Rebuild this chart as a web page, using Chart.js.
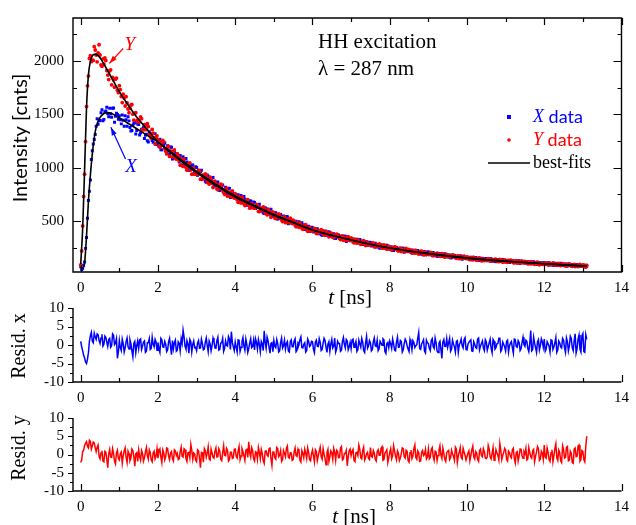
<!DOCTYPE html>
<html lang="en">
<head>
<meta charset="UTF-8">
<title>HH excitation decay</title>
<script src="https://cdn.jsdelivr.net/npm/chart.js@4.4.0/dist/chart.umd.min.js"></script>
<style>
  body { margin: 0; background: #fff; }
  #wrap { position: relative; width: 636px; height: 525px; overflow: hidden; }
  #wrap canvas { position: absolute; left: 0; }
</style>
</head>
<body>
<div id="wrap">
  <canvas id="main" width="636" height="310" style="top:0px"></canvas>
  <canvas id="resX" width="636" height="115" style="top:290px"></canvas>
  <canvas id="resY" width="636" height="125" style="top:400px"></canvas>
</div>
<script>
// sampling step of the measured traces [ns]
// "A" arrays start at t = 0, "B" arrays sit half a step later (t = 0.025, 0.075, ...)
var tStep = 0.05;

// X (blue) intensity data [cnts]
var xDataA = [
  75, 58, 119, 347, 694, 886, 1158, 1264, 1388, 1407,
  1442, 1543, 1452, 1530, 1504, 1556, 1473, 1558, 1482, 1498,
  1487, 1410, 1443, 1487, 1388, 1438, 1343, 1398, 1420, 1348,
  1403, 1326, 1360, 1273, 1312, 1241, 1320, 1254, 1272, 1216,
  1218, 1267, 1167, 1212, 1175, 1206, 1129, 1192, 1124, 1132,
  1117, 1053, 1073, 1102, 1021, 1054, 977, 1014, 1026, 966,
  1003, 942, 964, 895, 921, 863, 920, 866, 877, 830,
  828, 866, 788, 823, 794, 818, 758, 807, 754, 760,
  748, 700, 717, 740, 680, 706, 650, 679, 690, 645,
  676, 629, 647, 594, 615, 571, 617, 575, 585, 549,
  549, 579, 521, 549, 529, 549, 503, 542, 502, 508,
  500, 463, 476, 494, 446, 467, 422, 445, 452, 418,
  440, 406, 421, 383, 400, 369, 403, 374, 382, 358,
  358, 382, 339, 361, 346, 362, 330, 359, 331, 337,
  333, 306, 317, 332, 298, 315, 282, 301, 308, 283,
  302, 276, 288, 259, 273, 248, 275, 253, 259, 241,
  241, 260, 227, 246, 235, 248, 222, 247, 225, 230,
  227, 207, 216, 229, 202, 217, 192, 207, 214, 195,
  211, 191, 201, 177, 189, 171, 194, 176, 182, 167,
  169, 185, 158, 173, 164, 175, 155, 175, 158, 162,
  160, 143, 152, 162, 142, 153, 134, 146, 153, 137,
  151, 136, 144, 126, 135, 121, 140, 126, 131, 119,
  121, 135, 113, 125, 119, 129, 112, 130, 115, 119,
  118, 105, 112, 120, 103, 113, 97, 108, 112, 100,
  112, 98, 106, 90, 99, 86, 103, 91, 96, 86,
  87, 100, 80, 92, 86, 95, 80, 96, 83, 87,
  86, 73, 80
];
var xDataB = [
  48, 88, 246, 527, 780, 1076, 1222, 1311, 1458, 1439,
  1515, 1440, 1522, 1565, 1476, 1504, 1557, 1426, 1510, 1454,
  1449, 1493, 1388, 1449, 1476, 1377, 1349, 1415, 1315, 1409,
  1307, 1361, 1379, 1303, 1252, 1336, 1295, 1238, 1317, 1226,
  1260, 1169, 1214, 1232, 1146, 1158, 1194, 1081, 1143, 1094,
  1086, 1114, 1029, 1070, 1086, 1005, 979, 1024, 944, 1010,
  929, 966, 977, 915, 873, 933, 898, 852, 909, 836,
  861, 791, 825, 839, 772, 782, 809, 721, 770, 731,
  725, 748, 684, 717, 730, 670, 652, 688, 628, 680,
  618, 649, 658, 611, 578, 627, 601, 565, 611, 554,
  575, 522, 550, 562, 512, 520, 543, 477, 515, 486,
  482, 500, 450, 475, 486, 438, 424, 451, 404, 444,
  398, 422, 430, 397, 374, 411, 393, 368, 402, 362,
  378, 340, 361, 371, 334, 342, 360, 311, 341, 321,
  319, 334, 298, 319, 328, 294, 284, 306, 272, 304,
  269, 289, 295, 270, 252, 280, 267, 248, 275, 244,
  258, 227, 245, 254, 226, 232, 247, 209, 234, 218,
  217, 230, 202, 219, 227, 200, 194, 212, 186, 212,
  185, 201, 207, 186, 173, 198, 187, 173, 195, 170,
  182, 158, 173, 180, 157, 163, 175, 144, 165, 152,
  152, 163, 140, 155, 161, 141, 135, 151, 130, 152,
  131, 144, 149, 133, 123, 143, 134, 123, 141, 123,
  133, 113, 125, 132, 113, 119, 129, 104, 122, 112,
  112, 121, 102, 114, 120, 103, 98, 111, 94, 112,
  94, 106, 111, 97, 88, 106, 99, 89, 106, 89,
  98, 80, 92, 98, 81, 86, 96, 73, 89, 80,
  80, 89
];

// Y (red) intensity data [cnts]
var yDataA = [
  92, 456, 940, 1572, 1857, 2047, 2006, 2132, 2054, 2074,
  2054, 1948, 1970, 2003, 1866, 1905, 1775, 1821, 1828, 1725,
  1767, 1666, 1688, 1577, 1606, 1514, 1586, 1501, 1509, 1436,
  1427, 1475, 1358, 1402, 1356, 1385, 1294, 1358, 1278, 1283,
  1261, 1192, 1212, 1242, 1155, 1188, 1106, 1145, 1156, 1092,
  1132, 1064, 1088, 1012, 1040, 977, 1038, 979, 990, 940,
  936, 977, 893, 930, 899, 925, 860, 913, 855, 862,
  849, 796, 813, 837, 770, 798, 734, 765, 775, 726,
  757, 706, 727, 670, 693, 646, 695, 651, 661, 625,
  623, 657, 591, 622, 599, 620, 570, 613, 568, 575,
  566, 526, 541, 561, 511, 534, 486, 511, 521, 484,
  510, 471, 487, 443, 461, 424, 463, 428, 437, 408,
  407, 433, 386, 410, 394, 411, 375, 407, 376, 382,
  376, 348, 359, 375, 338, 356, 322, 341, 349, 323,
  344, 315, 328, 296, 311, 284, 314, 289, 297, 276,
  277, 296, 261, 279, 268, 281, 253, 279, 254, 260,
  255, 233, 243, 257, 228, 243, 216, 232, 240, 219,
  236, 215, 225, 201, 213, 193, 218, 198, 205, 188,
  190, 208, 179, 194, 185, 197, 176, 197, 178, 183,
  180, 163, 171, 182, 159, 172, 150, 164, 169, 153,
  167, 149, 159, 139, 150, 134, 154, 139, 145, 133,
  134, 149, 126, 139, 132, 142, 125, 142, 128, 131,
  130, 116, 124, 133, 114, 126, 108, 120, 125, 112,
  124, 110, 118, 101, 110, 97, 114, 102, 106, 96,
  97, 110, 90, 102, 96, 105, 90, 106, 93, 97,
  96, 83, 90, 99, 82, 92, 76, 87, 92, 80,
  92, 78, 86
];
var yDataB = [
  222, 732, 1244, 1766, 2022, 1992, 2003, 2101, 1990, 2150,
  1962, 2018, 2026, 1909, 1824, 1915, 1844, 1753, 1838, 1702,
  1731, 1609, 1652, 1664, 1549, 1556, 1591, 1445, 1515, 1448,
  1431, 1459, 1353, 1397, 1411, 1310, 1274, 1323, 1223, 1298,
  1200, 1243, 1255, 1181, 1129, 1199, 1158, 1101, 1167, 1080,
  1109, 1024, 1065, 1081, 1001, 1012, 1045, 939, 997, 949,
  941, 967, 891, 928, 943, 870, 847, 888, 815, 875,
  802, 837, 846, 790, 751, 807, 775, 732, 784, 717,
  740, 677, 710, 724, 664, 674, 701, 622, 667, 633,
  628, 650, 590, 621, 634, 577, 560, 594, 537, 586,
  530, 559, 568, 526, 497, 541, 518, 487, 528, 478,
  497, 447, 474, 484, 438, 446, 467, 405, 441, 414,
  412, 429, 386, 410, 420, 380, 368, 394, 354, 391,
  350, 372, 379, 349, 328, 362, 346, 323, 355, 319,
  334, 298, 319, 328, 294, 301, 318, 272, 301, 281,
  280, 294, 261, 280, 288, 257, 248, 268, 238, 266,
  235, 253, 260, 237, 221, 248, 236, 218, 245, 217,
  229, 202, 218, 227, 200, 206, 221, 185, 209, 194,
  193, 205, 179, 195, 202, 178, 172, 189, 164, 189,
  164, 179, 184, 165, 153, 176, 166, 152, 174, 151,
  161, 140, 153, 161, 140, 146, 157, 130, 148, 137,
  138, 147, 127, 139, 146, 128, 122, 137, 117, 137,
  117, 131, 135, 120, 110, 131, 121, 110, 129, 111,
  120, 102, 113, 119, 102, 107, 116, 93, 109, 100,
  100, 109, 91, 103, 109, 92, 88, 101, 84, 102,
  84, 96, 101, 87, 78, 96, 89, 79, 96, 79,
  88, 70
];

// best-fit curves
var fitT = [0, 0.05, 0.1, 0.15, 0.2, 0.25, 0.3, 0.35, 0.4, 0.5, 0.6, 0.7, 0.8, 1.0, 1.2, 1.4, 1.6, 1.8,
            2.0, 2.5, 3, 3.5, 4, 4.5, 5, 5.5, 6, 7, 8, 9, 10, 11, 12, 13.1];
var fitX = [60, 62, 110, 360, 690, 930, 1130, 1280, 1380, 1470, 1507, 1515, 1506, 1465, 1421, 1376, 1330, 1285,
            1240, 1100, 965, 845, 735, 646, 562, 490, 418, 325, 249, 197, 155, 126, 102, 80];
var fitY = [100, 430, 980, 1560, 1870, 1995, 2045, 2060, 2060, 2028, 1970, 1905, 1840, 1712, 1600, 1498, 1408, 1324,
            1243, 1090, 955, 835, 725, 638, 555, 485, 418, 325, 249, 197, 155, 126, 102, 80];

// weighted residuals
var residXA = [
  1.0, -1.5, -3.5, -5.0, -2.0, 2.5, 1.0, 3.2, 1.5, 2.8,
  0.4, 2.9, 0.2, 2.0, -0.4, 1.8, -0.2, 2.6, 0.5, -3.6,
  1.2, -1.5, 0.4, -0.8, 1.9, -1.1, 0.3, -3.2, 1.0, -0.2,
  -0.9, 1.6, -0.3, 1.1, -1.7, 0.6, -1.2, 2.1, -0.5, 0.8,
  0.7, -2.0, 1.4, -0.6, 0.2, -1.3, 1.8, -2.6, -1.0, 1.3,
  -1.4, 0.5, 1.7, 4.0, -0.3, 1.2, -2.2, 0.9, 0.1, -0.7,
  -1.5, 1.2, -0.8, 0.4, -1.1, 1.9, -1.8, 0.3, -0.2, 1.0,
  -0.9, 2.1, -1.2, 0.6, -1.7, 1.1, -0.3, 1.6, 3.6, -0.5,
  0.8, -1.9, 1.3, -0.6, 2.0, -1.4, 0.2, -1.0, 1.7, -0.4,
  -1.3, 0.7, 1.5, -1.8, 0.3, 3.8, -0.9, 1.1, -2.2, 0.6,
  1.2, -0.7, 0.4, -1.6, 1.9, -0.2, -1.1, 0.9, -1.9, 1.4,
  -0.5, 1.7, -1.4, 0.3, 2.2, -0.8, 0.6, -1.5, 1.0, -0.1,
  0.9, -2.1, 1.3, -0.4, 0.7, -1.2, 1.8, -0.6, 0.2, -1.7,
  1.5, -0.3, -1.9, 1.0, 0.4, -1.4, 2.0, -0.8, 1.1, -0.5,
  -1.0, 1.6, 0.2, -1.7, 1.3, -0.6, 0.8, -2.0, 2.3, -0.3,
  0.6, -1.2, 1.9, -0.4, -1.5, 1.0, -0.1, 1.4, -2.3, 0.7,
  1.1, -0.9, 0.3, -1.6, 2.1, -0.5, 0.9, -1.3, 1.6, -0.2,
  -1.8, 0.5, 1.2, -0.7, 0.1, 3.4, -1.2, 0.8, -1.6, 1.3,
  0.4, -1.5, 1.7, -0.9, 0.6, -2.0, 1.0, -3.6, 1.5, -0.4,
  -0.6, 1.8, -1.1, 0.3, -1.9, 1.2, 0.0, 1.6, -0.8, 2.0,
  -1.3, 0.7, 1.4, -1.7, 0.2, -0.9, 1.9, -0.3, 1.1, -1.5,
  0.8, -0.4, 1.6, -2.1, 1.0, -0.7, 0.4, 1.8, -1.2, 0.2,
  -1.6, 1.3, -0.2, 0.9, -2.2, 1.5, -0.6, 0.7, -1.0, 2.1,
  -0.4, 1.0, -1.8, 3.9, -1.3, 0.5, -2.0, 1.4, -0.1, 0.9,
  1.6, -1.1, 0.3, -1.9, 1.2, -0.5, 2.0, -1.4, 0.6, -0.8,
  1.3, -2.0, 0.9, -0.3, 1.8, -1.5, 3.0, -1.0, 2.7, -1.9,
  3.1, -2.0, 1.5
];
var residXB = [
  -0.5, -2.8, -4.6, -3.8, 1.0, 3.4, 0.6, 2.2, 3.0, 1.2,
  1.9, -0.3, 2.4, 0.8, 1.5, -0.6, 3.0, 0.1, 1.7, -1.8,
  -0.7, 1.6, -1.9, 0.9, -0.4, 1.4, -1.6, 0.5, -2.1, 1.1,
  1.3, -1.2, 0.8, -2.0, 0.6, 1.7, -0.9, 0.2, 1.5, -1.4,
  -1.1, 1.8, -0.5, 1.0, -1.8, 0.9, -0.4, 1.2, 0.6, -1.7,
  0.9, -1.6, 0.4, 2.2, -1.1, 0.3, 1.5, -1.9, 1.1, -0.6,
  0.5, -0.9, 1.6, -1.3, 0.8, -0.2, 1.1, -1.6, 1.9, -0.8,
  1.2, -1.4, 0.5, 1.8, -0.9, -0.1, 2.3, -1.2, 0.7, -1.5,
  -0.6, 1.4, -1.7, 0.9, -0.3, 1.6, -2.0, 0.6, -0.7, 1.3,
  1.7, -1.1, 0.2, 1.0, -1.5, 0.8, 2.1, -0.6, 0.4, -1.8,
  -0.3, 1.5, -1.9, 0.7, -0.8, 1.3, 0.4, -1.6, 0.9, -0.5,
  1.1, -1.8, 0.6, 1.4, -0.7, 0.2, -1.9, 1.6, -0.4, 1.0,
  -1.2, 0.8, -0.3, 1.7, -1.5, 0.5, 1.2, -2.0, 0.9, 0.3,
  -0.8, 1.9, -1.1, 0.4, -1.7, 0.9, 0.2, 1.5, -1.3, 0.7,
  1.4, -0.6, 1.0, -1.2, 0.3, 1.8, -1.5, 0.6, -0.9, 1.2,
  -1.6, 0.9, -0.2, 1.3, -1.0, 0.5, 1.7, -1.8, 0.4, -0.7,
  0.3, 1.6, -1.4, 0.8, -0.6, 1.2, -1.9, 0.4, 1.0, -1.1,
  1.5, -1.3, 0.7, -0.2, 1.8, -1.0, 0.3, 1.4, -2.1, 0.6,
  -0.9, 1.2, -0.4, 1.9, -1.6, 0.5, -1.1, 0.8, -0.3, 1.7,
  0.6, -1.7, 1.3, -0.5, 1.0, -2.0, 0.7, -0.2, 1.5, -1.2,
  0.2, 1.1, -1.6, 0.9, -0.7, 1.6, -1.3, 0.4, -0.8, 1.4,
  -1.4, 0.6, -0.9, 1.5, -1.1, 0.3, 1.8, -1.7, 0.8, -0.5,
  1.0, -1.9, 0.5, -0.8, 1.6, -0.4, 1.2, -1.5, 0.7, 0.1,
  1.3, -1.0, 0.4, -1.6, 2.1, -0.7, 0.8, -1.3, 1.7, -0.6,
  -1.7, 0.9, -0.3, 1.4, -1.2, 0.6, -2.0, 1.1, -0.5, 1.8,
  -0.8, 1.9, -1.6, 2.4, -0.7, 1.2, -2.2, 1.6, -1.1, 2.5,
  -1.8, 2.8
];
var residYA = [
  -2.2, 0.8, 2.5, 3.5, 1.8, 3.6, 2.4, 3.2, 0.8, 2.6,
  -1.2, 1.0, -2.0, 0.6, -3.6, 1.4, -0.8, 0.3, -2.6, 1.2,
  -1.5, 0.7, -0.4, 1.8, -2.2, 0.2, -1.0, 1.1, -3.2, 0.5,
  1.2, -1.6, 0.3, -0.9, 1.9, -1.3, 0.6, -2.0, 0.9, -0.5,
  -1.0, 1.5, -2.2, 0.4, -0.6, 1.7, -1.4, 0.8, -1.8, 1.0,
  0.3, -1.2, 2.0, -0.7, 1.3, -1.9, 0.6, 2.8, -1.3, 0.1,
  -2.0, 1.0, -3.6, 0.5, 1.6, -0.8, 2.1, -1.5, 0.4, -1.0,
  1.8, -0.6, 0.9, -1.7, 2.4, -0.3, 1.2, -1.4, 0.6, -0.9,
  1.5, -1.0, 2.2, -0.4, 0.8, -1.6, 1.4, 3.5, -0.7, 1.1,
  -1.8, 0.6, 1.9, -1.2, 0.3, -2.4, 1.0, -0.5, 2.0, -3.0,
  0.7, -1.3, 1.6, -0.2, -1.9, 1.1, -0.6, 2.3, -1.0, 0.4,
  -1.4, 1.8, -0.5, 0.9, -2.1, 0.3, 1.5, -1.1, 0.6, -1.7,
  1.2, -2.0, 0.8, -0.4, 2.0, -1.3, 0.1, -2.8, 1.4, -0.6,
  0.5, 1.7, -1.6, 0.9, -0.8, 2.2, -1.2, 0.3, -3.1, 1.0,
  -0.3, 1.4, -1.9, 0.6, 2.6, -0.9, 1.1, -1.5, 0.2, -1.1,
  1.9, -0.7, 0.4, -1.8, 1.3, -0.2, 2.1, -1.4, 0.8, -2.2,
  0.6, -1.2, 2.4, -0.5, 1.0, -1.7, 0.3, 1.6, -1.0, 0.9,
  -2.1, 1.2, -0.4, 2.6, -1.3, 0.5, -1.8, 1.1, 0.0, -1.2,
  1.5, -0.8, 1.9, -1.6, 0.7, -0.3, 2.4, -1.1, 0.4, -1.9,
  0.9, -1.4, 1.2, -0.5, 2.0, -2.2, 0.6, -0.9, 1.7, -0.2,
  -1.5, 1.0, -0.3, 2.3, -1.2, 0.4, -1.9, 1.5, -0.6, 0.8,
  -1.1, 2.5, -0.7, 0.3, -1.6, 1.3, -0.2, 3.0, -1.4, 0.6,
  1.2, -1.8, 0.5, -0.9, 1.7, -2.3, 0.8, -0.4, 1.4, -1.0,
  0.2, -1.5, 1.9, -0.6, 1.0, -2.0, 0.7, 1.6, -1.2, 0.4,
  2.6, -1.0, 0.6, -1.9, 1.3, -0.3, 2.9, -1.6, 0.5, -2.2,
  1.4, -0.8, 2.2, -1.5, 0.3, -2.4, 1.8, -0.5, 2.6, -1.3,
  0.8, -2.0, 5.0
];
var residYB = [
  -1.5, 1.2, 3.1, 2.2, 3.9, 1.5, 3.4, 1.9, 2.0, -0.5,
  0.4, -1.8, 0.9, -1.3, 0.2, -0.7, 1.6, -1.9, 0.5, -1.1,
  0.3, -2.4, 1.0, -0.8, 0.9, -1.7, 1.5, -0.6, 0.2, -1.9,
  -0.6, 1.1, -1.8, 0.8, -0.4, 1.3, -1.5, 0.4, -1.2, 1.6,
  0.9, -0.7, 1.2, -1.5, 1.8, -0.5, 0.4, -1.2, 1.3, -0.3,
  -1.4, 0.8, -0.5, 1.6, -1.1, 0.5, -0.9, 1.2, 0.4, -1.6,
  1.3, -1.1, 0.6, -2.1, 1.0, 0.3, -1.2, 1.5, -0.8, 0.9,
  -0.7, 1.6, -1.3, 0.5, -0.2, 1.7, -1.8, 0.6, -1.1, 1.4,
  -0.5, 0.9, -1.4, 1.6, -0.3, 1.2, -0.8, 0.4, 1.9, -1.2,
  0.8, -1.3, 0.5, 1.4, -1.7, 0.9, -0.2, 1.6, -1.1, 0.7,
  -0.9, 1.9, -0.6, 1.1, -1.4, 0.3, 1.7, -0.8, 0.5, -1.6,
  0.7, -0.3, 1.5, -1.6, 1.1, -0.9, 0.4, 1.8, -1.4, 0.2,
  -0.4, 1.3, -1.7, 0.9, -0.6, 1.6, -1.1, 0.5, -1.9, 1.0,
  -1.3, 0.6, 1.2, -0.9, 1.8, -1.5, 0.3, 1.1, -0.7, 1.5,
  0.9, -1.6, 0.5, -0.3, 1.4, -1.2, 2.0, -0.8, 0.6, -1.4,
  -0.5, 1.1, -1.3, 0.8, -0.2, 1.7, -1.6, 0.4, 1.3, -0.9,
  1.6, -0.4, 0.9, -1.5, 0.3, -1.0, 1.8, -0.6, 1.2, -1.7,
  0.5, -1.1, 1.6, -0.8, 1.0, -1.9, 0.6, -0.3, 1.4, -0.7,
  -1.2, 1.4, -0.6, 0.9, -1.7, 1.2, -0.2, 1.8, -1.3, 0.5,
  1.1, -0.9, 0.3, -1.6, 1.5, -0.4, 1.9, -1.2, 0.7, -1.5,
  0.4, -1.7, 1.3, -0.6, 0.8, -1.4, 1.1, -0.3, 1.6, -1.0,
  -0.6, 1.5, -1.2, 1.9, -0.8, 0.4, -1.5, 1.2, -0.3, 1.7,
  -1.4, 0.9, -0.5, 1.3, -1.1, 0.6, -1.8, 1.5, -0.4, 0.8,
  1.7, -1.2, 0.6, -1.0, 1.4, -0.5, 2.2, -1.6, 0.9, -1.3,
  -0.7, 1.8, -1.4, 0.5, -2.0, 1.6, -0.9, 1.2, -1.7, 2.4,
  -1.0, 2.0, -1.7, 0.9, -2.2, 1.5, -0.6, 2.3, -1.8, 1.1,
  -1.4, 2.2
];

// axis ticks
var xTicks = [0, 2, 4, 6, 8, 10, 12, 14];
var xMinor = [1, 3, 5, 7, 9, 11, 13];
var intTicks = [500, 1000, 1500, 2000];
var intMinor = [250, 750, 1250, 1750, 2250];
var resTicks = [-10, -5, 0, 5, 10];
var resMinor = [-7.5, -2.5, 2.5, 7.5];

var BLUE = '#0000ff', RED = '#ff0000';
var SERIF = '"Liberation Serif", "DejaVu Serif", serif';
var SANS = 'Lato, "Liberation Sans", sans-serif';

// interleave the two half-step sample sets into one time-ordered list of points
function merged(a, b) {
  var out = [];
  a.forEach(function (v, i) {
    out.push({ x: i * tStep, y: v });
    if (i < b.length) out.push({ x: (i + 0.5) * tStep, y: b[i] });
  });
  return out;
}
function paired(ts, vals) {
  return ts.map(function (t, i) { return { x: t, y: vals[i] }; });
}
function fixedTicks(list) {
  return function (scale) { scale.ticks = list.map(function (v) { return { value: v }; }); };
}
function plainLabel(v) { return String(v); }

// axis lines + inward/outward tick marks drawn by hand
var axesPlugin = {
  id: 'axesIn',
  afterDraw: function (chart, args, o) {
    var ctx = chart.ctx, a = chart.chartArea;
    var xs = chart.scales.x, ys = chart.scales.y;
    ctx.save();
    ctx.strokeStyle = '#000';
    ctx.lineWidth = 1.4;
    ctx.beginPath();
    ctx.moveTo(a.left, a.top);
    ctx.lineTo(a.left, a.bottom);
    ctx.lineTo(a.right, a.bottom);
    if (o.box) { ctx.lineTo(a.right, a.top); ctx.closePath(); }
    ctx.stroke();
    ctx.lineWidth = 1.2;
    ctx.beginPath();
    function xt(list, len) {
      list.forEach(function (v) {
        var px = Math.round(xs.getPixelForValue(v)) + 0.5;
        ctx.moveTo(px, a.bottom); ctx.lineTo(px, a.bottom - len);
        if (o.box) { ctx.moveTo(px, a.top); ctx.lineTo(px, a.top + len); }
      });
    }
    function yt(list, len) {
      list.forEach(function (v) {
        var py = Math.round(ys.getPixelForValue(v)) + 0.5;
        ctx.moveTo(a.left, py); ctx.lineTo(a.left + (o.yOut ? -len : len), py);
        if (o.box) { ctx.moveTo(a.right, py); ctx.lineTo(a.right - len, py); }
      });
    }
    xt(o.xMajor, 7); xt(o.xMinor, 4);
    yt(o.yMajor, o.yOut ? 5 : 8); yt(o.yMinor, o.yOut ? 3 : 4);
    ctx.stroke();
    ctx.restore();
  }
};

// free text (mixed fonts), optional data coordinates, plus arrows and legend marks
var textPlugin = {
  id: 'texts',
  afterDraw: function (chart, args, o) {
    var ctx = chart.ctx;
    (o.arrows || []).forEach(function (ar) {
      var x1 = chart.scales.x.getPixelForValue(ar.from[0]), y1 = chart.scales.y.getPixelForValue(ar.from[1]);
      var x2 = chart.scales.x.getPixelForValue(ar.to[0]), y2 = chart.scales.y.getPixelForValue(ar.to[1]);
      var ang = Math.atan2(y2 - y1, x2 - x1);
      ctx.save();
      ctx.strokeStyle = ar.color; ctx.fillStyle = ar.color; ctx.lineWidth = 1.2;
      ctx.beginPath(); ctx.moveTo(x1, y1); ctx.lineTo(x2, y2); ctx.stroke();
      ctx.translate(x2, y2); ctx.rotate(ang);
      ctx.beginPath(); ctx.moveTo(0, 0); ctx.lineTo(-8, -2.6); ctx.lineTo(-8, 2.6); ctx.closePath(); ctx.fill();
      ctx.restore();
    });
    (o.marks || []).forEach(function (m) {
      ctx.save();
      ctx.fillStyle = m.color; ctx.strokeStyle = m.color;
      if (m.type === 'rect') ctx.fillRect(m.x - 2, m.y - 2, 4, 4);
      else if (m.type === 'dot') { ctx.beginPath(); ctx.arc(m.x, m.y, 1.8, 0, Math.PI * 2); ctx.fill(); }
      else { ctx.lineWidth = 1.3; ctx.beginPath(); ctx.moveTo(m.x, m.y); ctx.lineTo(m.x2, m.y); ctx.stroke(); }
      ctx.restore();
    });
    (o.items || []).forEach(function (it) {
      var x = it.x, y = it.y;
      if (it.data) { x = chart.scales.x.getPixelForValue(it.x); y = chart.scales.y.getPixelForValue(it.y); }
      ctx.save();
      ctx.translate(x, y);
      if (it.rot) ctx.rotate(it.rot);
      ctx.textBaseline = 'middle';
      var w = 0;
      it.parts.forEach(function (p) { ctx.font = p[1]; w += ctx.measureText(p[0]).width; });
      var cx = it.left ? 0 : -w / 2;
      it.parts.forEach(function (p) {
        ctx.font = p[1]; ctx.fillStyle = p[2] || '#000';
        ctx.fillText(p[0], cx, 0);
        cx += ctx.measureText(p[0]).width;
      });
      ctx.restore();
    });
  }
};

function baseScales(yMin, yMax, xH, yTickList) {
  return {
    x: {
      type: 'linear', min: -0.2, max: 14,
      grid: { display: false, drawTicks: false }, border: { display: false },
      ticks: { color: '#000', font: { family: SERIF, size: 15 }, padding: 7, maxRotation: 0,
               autoSkip: false, callback: plainLabel },
      afterBuildTicks: fixedTicks(xTicks),
      afterFit: function (s) { s.height = xH; }
    },
    y: {
      type: 'linear', min: yMin, max: yMax,
      grid: { display: false, drawTicks: false }, border: { display: false },
      ticks: { color: '#000', font: { family: SERIF, size: 15 }, padding: 9,
               autoSkip: false, callback: plainLabel },
      afterBuildTicks: fixedTicks(yTickList),
      afterFit: function (s) { s.width = 73; }
    }
  };
}

var common = { animation: false, responsive: false, events: [] };

new Chart(document.getElementById('main'), {
  type: 'scatter',
  data: {
    datasets: [
      { label: 'fit X', data: paired(fitT, fitX), showLine: true, borderColor: '#000', borderWidth: 1.6,
        pointRadius: 0, cubicInterpolationMode: 'monotone' },
      { label: 'fit Y', data: paired(fitT, fitY), showLine: true, borderColor: '#000', borderWidth: 1.6,
        pointRadius: 0, cubicInterpolationMode: 'monotone' },
      { label: 'Y data', data: merged(yDataA, yDataB), pointStyle: 'circle', pointRadius: 1.9,
        backgroundColor: RED, borderWidth: 0 },
      { label: 'X data', data: merged(xDataA, xDataB), pointStyle: 'rect', pointRadius: 2.1,
        backgroundColor: BLUE, borderWidth: 0 }
    ]
  },
  options: Object.assign({}, common, {
    layout: { padding: { top: 13, right: 8, left: 0, bottom: 0 } },
    scales: baseScales(25, 2400, 38, intTicks),
    plugins: {
      legend: { display: false }, tooltip: { enabled: false },
      axesIn: { box: true, yOut: false, xMajor: xTicks, xMinor: xMinor, yMajor: intTicks, yMinor: intMinor },
      texts: {
        arrows: [
          { from: [1.10, 2115], to: [0.74, 1975], color: RED },
          { from: [1.16, 1082], to: [0.78, 1378], color: BLUE }
        ],
        marks: [
          { type: 'rect', x: 509, y: 117, color: BLUE },
          { type: 'dot', x: 509, y: 140, color: RED },
          { type: 'line', x: 488, x2: 530, y: 163, color: '#000' }
        ],
        items: [
          { x: 21, y: 138, rot: -Math.PI / 2, parts: [['Intensity [cnts]', '20px ' + SANS]] },
          { x: 318, y: 42, left: true, parts: [['HH excitation', '21px ' + SERIF]] },
          { x: 318, y: 69, left: true, parts: [['\u03bb = 287 nm', '21px ' + SERIF]] },
          { x: 350, y: 298, parts: [['t', 'italic 21px ' + SERIF], [' [ns]', '21px ' + SERIF]] },
          { data: true, x: 1.27, y: 2150, parts: [['Y', 'italic 19px ' + SERIF, RED]] },
          { data: true, x: 1.30, y: 1008, parts: [['X', 'italic 19px ' + SERIF, BLUE]] },
          { x: 533, y: 117, left: true, parts: [['X', 'italic 18px ' + SERIF, BLUE], [' data', '18px ' + SANS, BLUE]] },
          { x: 533, y: 140, left: true, parts: [['Y', 'italic 18px ' + SERIF, RED], [' data', '18px ' + SANS, RED]] },
          { x: 533, y: 163, left: true, parts: [['best-fits', '18px ' + SERIF]] }
        ]
      }
    }
  }),
  plugins: [axesPlugin, textPlugin]
});

function residChart(id, a, b, color, xH, label, extra) {
  var items = [{ x: 20, y: label.y, rot: -Math.PI / 2, parts: [[label.text, '20px ' + SERIF]] }].concat(extra || []);
  return new Chart(document.getElementById(id), {
    type: 'scatter',
    data: {
      datasets: [{ label: label.text, data: merged(a, b), showLine: true, borderColor: color,
                   borderWidth: 1.5, pointRadius: 0, tension: 0 }]
    },
    options: Object.assign({}, common, {
      layout: { padding: { top: 13, right: 8, left: 0, bottom: 0 } },
      scales: baseScales(-10, 10, xH, resTicks),
      plugins: {
        legend: { display: false }, tooltip: { enabled: false },
        axesIn: { box: false, yOut: true, xMajor: xTicks, xMinor: xMinor, yMajor: resTicks, yMinor: resMinor },
        texts: { items: items }
      }
    }),
    plugins: [axesPlugin, textPlugin]
  });
}

residChart('resX', residXA, residXB, BLUE, 23, { text: 'Resid. x', y: 56 });
residChart('resY', residYA, residYB, RED, 34, { text: 'Resid. y', y: 48 },
  [{ x: 354, y: 117, parts: [['t', 'italic 21px ' + SERIF], [' [ns]', '21px ' + SERIF]] }]);
</script>
</body>
</html>
